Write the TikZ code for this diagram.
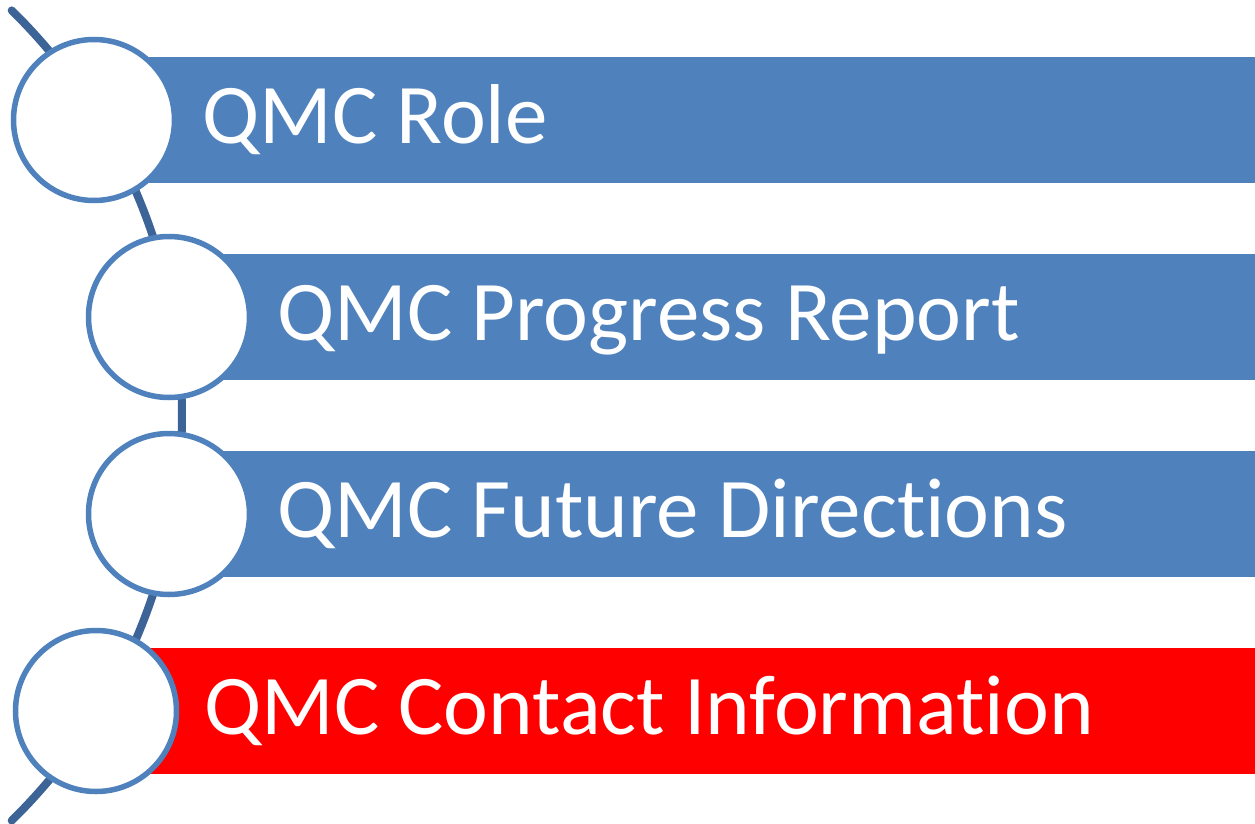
\documentclass[tikz,border=0pt]{standalone}
\usepackage{fontspec}
\setmainfont{Carlito}[Ligatures={NoCommon}]
\definecolor{barblue}{HTML}{4F81BD}
\definecolor{spineblue}{HTML}{3C6496}
\definecolor{barred}{HTML}{FF0000}
\tikzset{
  bar/.style={rectangle, fill=barblue, minimum height=126pt, inner sep=0pt, anchor=west},
  dot/.style={circle, draw=barblue, line width=5.5pt, fill=white, minimum size=161pt, inner sep=0pt},
  item/.style={anchor=base west, inner sep=0pt, text=white, font=\fontsize{85}{100}\selectfont},
  spine/.style={draw=spineblue, line width=8pt, line cap=round}
}
\begin{document}
\begin{tikzpicture}[x=1pt,y=1pt]
\useasboundingbox (0,0) rectangle (1255,-824);
\coordinate (hub) at (-385,-415.5);
\draw [spine] (hub) ++(45.6:567) arc [start angle=45.6, end angle=-45.6, radius=567];
 \node [bar, minimum width=1161pt] (rolebar) at (94,-120) {};
 \node [bar, minimum width=1086pt] (progressbar) at (169,-317) {};
 \node [bar, minimum width=1086pt] (futurebar) at (169,-514) {};
 \node [bar, minimum width=1159pt, fill=barred] (contactbar) at (96,-711) {};
 \node [dot] (role) at (94,-120) {};
 \node [dot] (progress) at (169,-317) {};
 \node [dot] (future) at (169,-514) {};
 \node [dot] (contact) at (96,-711) {};
 \node [item] at ([xshift=108pt,yshift=-23pt]rolebar.west) {QMC Role};
 \node [item] at ([xshift=108pt,yshift=-23pt]progressbar.west) {QMC Progress Report};
 \node [item] at ([xshift=108pt,yshift=-23pt]futurebar.west) {QMC Future Directions};
 \node [item] at ([xshift=108pt,yshift=-23pt]contactbar.west) {QMC Contact Information};
\end{tikzpicture}
\end{document}
